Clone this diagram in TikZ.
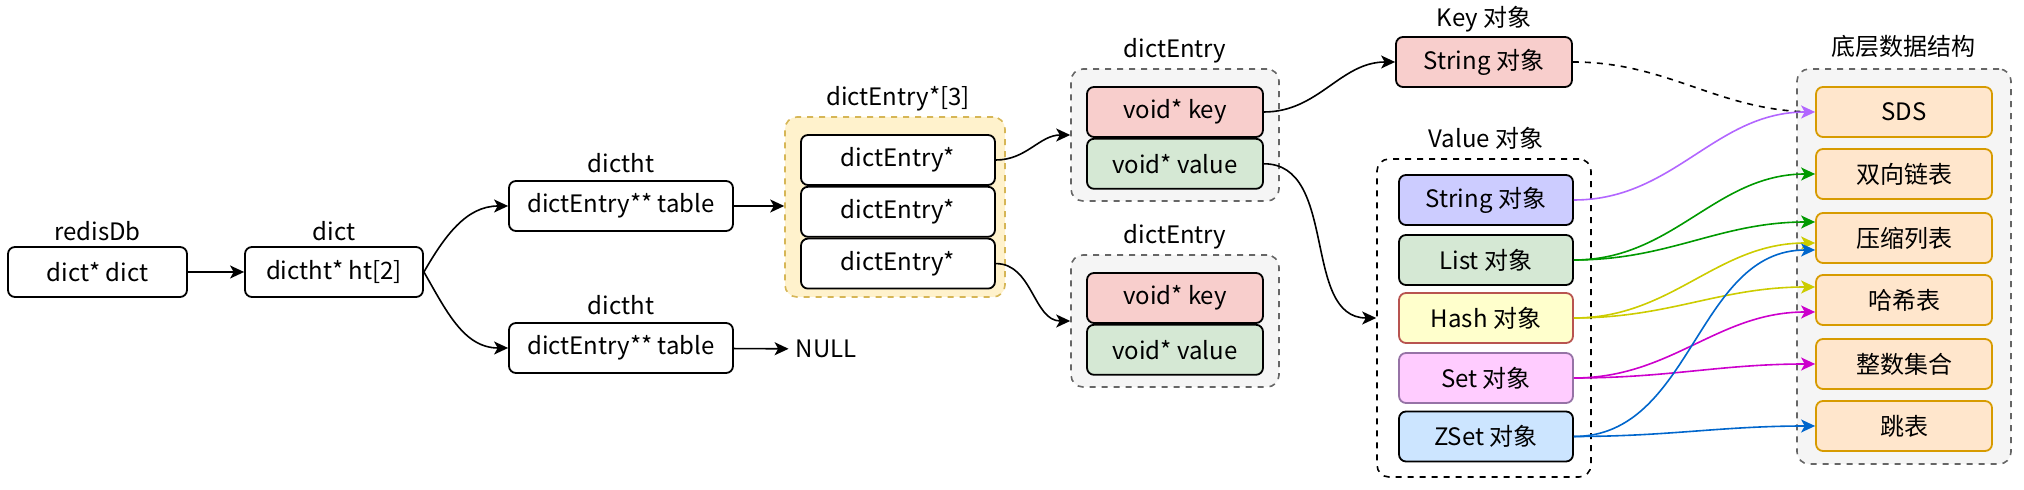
\documentclass[tikz,border=0pt]{standalone}
\usepackage{fontspec}
\setmainfont{Noto Sans CJK SC}
\usetikzlibrary{positioning, arrows.meta}

\definecolor{keyfill}{HTML}{F8CECC}
\definecolor{valfill}{HTML}{D5E8D4}
\definecolor{strfill}{HTML}{CCCCFF}
\definecolor{hashfill}{HTML}{FFFFCC}
\definecolor{hashline}{HTML}{B85450}
\definecolor{setfill}{HTML}{FFCCFF}
\definecolor{setline}{HTML}{9673A6}
\definecolor{zsetfill}{HTML}{CCE5FF}
\definecolor{encfill}{HTML}{FFE6CC}
\definecolor{encline}{HTML}{D79B00}
\definecolor{grpfill}{HTML}{F5F5F5}
\definecolor{grpline}{HTML}{666666}
\definecolor{arrfill}{HTML}{FFF2CC}
\definecolor{arrline}{HTML}{D6B656}
\definecolor{cstr}{HTML}{B266FF}
\definecolor{clist}{HTML}{009900}
\definecolor{chash}{HTML}{CCCC00}
\definecolor{cset}{HTML}{CC00CC}
\definecolor{czset}{HTML}{0066CC}

\begin{document}
\begin{tikzpicture}[x=0.5pt, y=-0.5pt, font=\fontsize{12}{14}\selectfont,
  >={Stealth[length=7pt, width=6.5pt, inset=1.8pt]},
  box/.style={draw, line width=0.9pt, rounded corners=3.5pt, minimum height=25pt, inner sep=0pt},
  grp/.style={draw=grpline, fill=grpfill, dashed, line width=0.8pt, rounded corners=6pt},
  enc/.style={box, draw=encline, fill=encfill, minimum width=88pt},
  title/.style={inner sep=0pt},
  link/.style={->, line width=0.8pt}]
\useasboundingbox (0,0) rectangle (2024,490);

% redisDb / dict / dictht
\node[box, minimum width=89.5pt] (db) at (97.5,272) {dict* dict};
\node[title] (db_t) at (97.5,231) {redisDb};
\node[box, minimum width=89pt] (dict) at (334,272) {dictht* ht[2]};
\node[title] (dict_t) at (334,231) {dict};
\node[box, minimum width=112pt] (ht0) at (621,206) {dictEntry** table};
\node[title] (ht0_t) at (621,163) {dictht};
\node[box, minimum width=112pt] (ht1) at (621,348) {dictEntry** table};
\node[title] (ht1_t) at (621,305) {dictht};
\node (null) at (826,349) {NULL};

% dictEntry*[3]
\node[draw=arrline, fill=arrfill, dashed, line width=0.8pt, rounded corners=6pt,
      minimum width=110pt, minimum height=90pt] (tbl) at (895,207) {};
\node[title] (tbl_t) at (898,99) {dictEntry*[3]};
\node[box, fill=white, minimum width=97pt] (e0) at (898,160) {dictEntry*};
\node[box, fill=white, minimum width=97pt] (e1) [below=0pt of e0] {dictEntry*};
\node[box, fill=white, minimum width=97pt] (e2) [below=0pt of e1] {dictEntry*};

% dictEntry
\node[grp, minimum width=104pt, minimum height=66pt] (de0) at (1175,135) {};
\node[title] (de0_t) at (1175,51) {dictEntry};
\node[box, fill=keyfill, minimum width=88pt] (k0) at (1175,112) {void* key};
\node[box, fill=valfill, minimum width=88pt] (v0) [below=0pt of k0] {void* value};
\node[grp, minimum width=104pt, minimum height=66pt] (de1) at (1175,321) {};
\node[title] (de1_t) at (1175,237) {dictEntry};
\node[box, fill=keyfill, minimum width=88pt] (k1) at (1175,298) {void* key};
\node[box, fill=valfill, minimum width=88pt] (v1) [below=0pt of k1] {void* value};

% Key / Value objects
\node[box, fill=keyfill, minimum width=88pt] (kstr) at (1484,62) {String 对象};
\node[title] (kobj_t) at (1484,19) {Key 对象};
\node[draw, dashed, line width=0.8pt, rounded corners=6pt,
      minimum width=107pt, minimum height=159pt] (vobj) at (1484,318) {};
\node[title] (vobj_t) at (1486,138) {Value 对象};
\node[box, fill=strfill, minimum width=87pt] (ostr) at (1486,200) {String 对象};
\node[box, fill=valfill, minimum width=87pt] (olist) at (1486,260) {List 对象};
\node[box, draw=hashline, fill=hashfill, minimum width=87pt] (ohash) at (1486,318) {Hash 对象};
\node[box, draw=setline, fill=setfill, minimum width=87pt] (oset) at (1486,378) {Set 对象};
\node[box, fill=zsetfill, minimum width=87pt] (ozset) at (1486,436.5) {ZSet 对象};

% encodings
\node[grp, minimum width=107pt, minimum height=197.5pt] (low) at (1904,266.5) {};
\node[title] (low_t) at (1903,46) {底层数据结构};
\node[enc] (sds) at (1904,112) {SDS};
\node[enc] (dlist) at (1904,174) {双向链表};
\node[enc] (zlist) at (1904,238) {压缩列表};
\node[enc] (htab) at (1904,300) {哈希表};
\node[enc] (iset) at (1904,364) {整数集合};
\node[enc] (skip) at (1904,426) {跳表};

\path[link] (db) edge (dict);
\path[link] (dict.east) edge[out=60, in=180] (ht0.west);
\path[link] (dict.east) edge[out=-60, in=180] (ht1.west);
\path[link] (ht0) edge (tbl.west |- ht0);
\path[link] (ht1) edge (null);
\path[link] (e0.east) edge[out=0, in=180] (de0.west);
\path[link] (e2.east) edge[out=0, in=180] (de1.west);
\path[link] (k0.east) edge[out=0, in=180] (kstr.west);
\path[link] (v0.east) edge[out=0, in=180] (vobj.west);
\draw[line width=0.8pt, dashed] (kstr.east) to[out=0, in=180] (sds.west);

\path[link, color=cstr] (ostr.east) edge[out=0, in=180] (sds.west);
\path[link, color=clist] (olist.east) edge[out=0, in=180] (dlist.west)
  (olist.east) edge[out=0, in=180] ([yshift=8pt]zlist.west);
\path[link, color=chash] (ohash.east) edge[out=0, in=180] ([yshift=-2.5pt]zlist.west)
  (ohash.east) edge[out=0, in=180] ([yshift=6.5pt]htab.west);
\path[link, color=cset] (oset.east) edge[out=0, in=180] ([yshift=-6pt]htab.west)
  (oset.east) edge[out=0, in=180] (iset.west);
\path[link, color=czset] (ozset.east) edge[out=0, in=180] ([yshift=-6pt]zlist.west)
  (ozset.east) edge[out=0, in=180] (skip.west);
\end{tikzpicture}
\end{document}
